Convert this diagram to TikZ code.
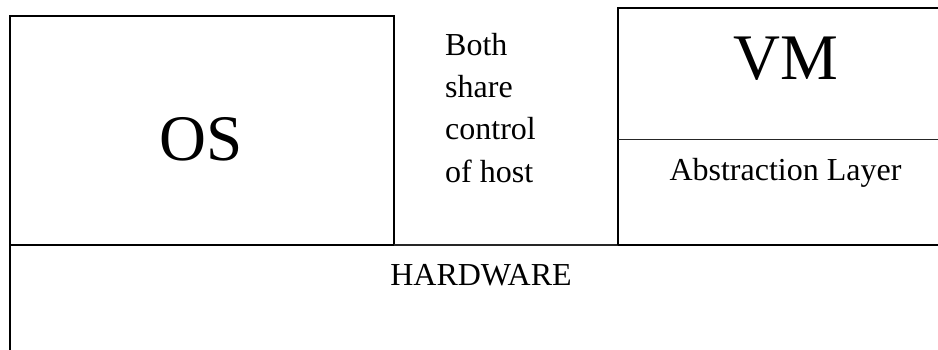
\documentclass[tikz,border=0pt]{standalone}
\usepackage{fontspec}
\setmainfont{Liberation Serif}
\begin{document}
\begin{tikzpicture}[x=1pt,y=-1pt,
  boxline/.style={line width=2.2pt,black},
  thinline/.style={line width=1.4pt,black!85},
  bigtxt/.style={inner sep=0pt,anchor=base,font=\fontsize{65}{70}\selectfont},
  smalltxt/.style={inner sep=0pt,font=\fontsize{32}{42.3}\selectfont}]
\useasboundingbox (0,0) rectangle (938,349);
% OS box
\draw[boxline] (10,245) -- (10,16) -- (394,16) -- (394,245);
% hardware top line and left side
\draw[boxline] (10,360) -- (10,245) -- (394,245);
\draw[thinline] (394,245) -- (618,245);
\draw[boxline] (618,245) -- (950,245);
% VM box
\draw[boxline] (618,245) -- (618,8) -- (950,8);
\draw[thinline,line width=1.6pt] (618,139.5) -- (950,139.5);
% texts
\node[bigtxt] (os) at (201,160) {OS};
\node[bigtxt] (vm) at (786,79) {VM};
\node[smalltxt,anchor=base west,align=left] (both) at (445,182) {Both\\share\\control\\of host};
\node[smalltxt,anchor=base] (abs) at (785.5,180) {Abstraction Layer};
\node[smalltxt,anchor=base] (hw) at (481,285) {HARDWARE};
\end{tikzpicture}
\end{document}
